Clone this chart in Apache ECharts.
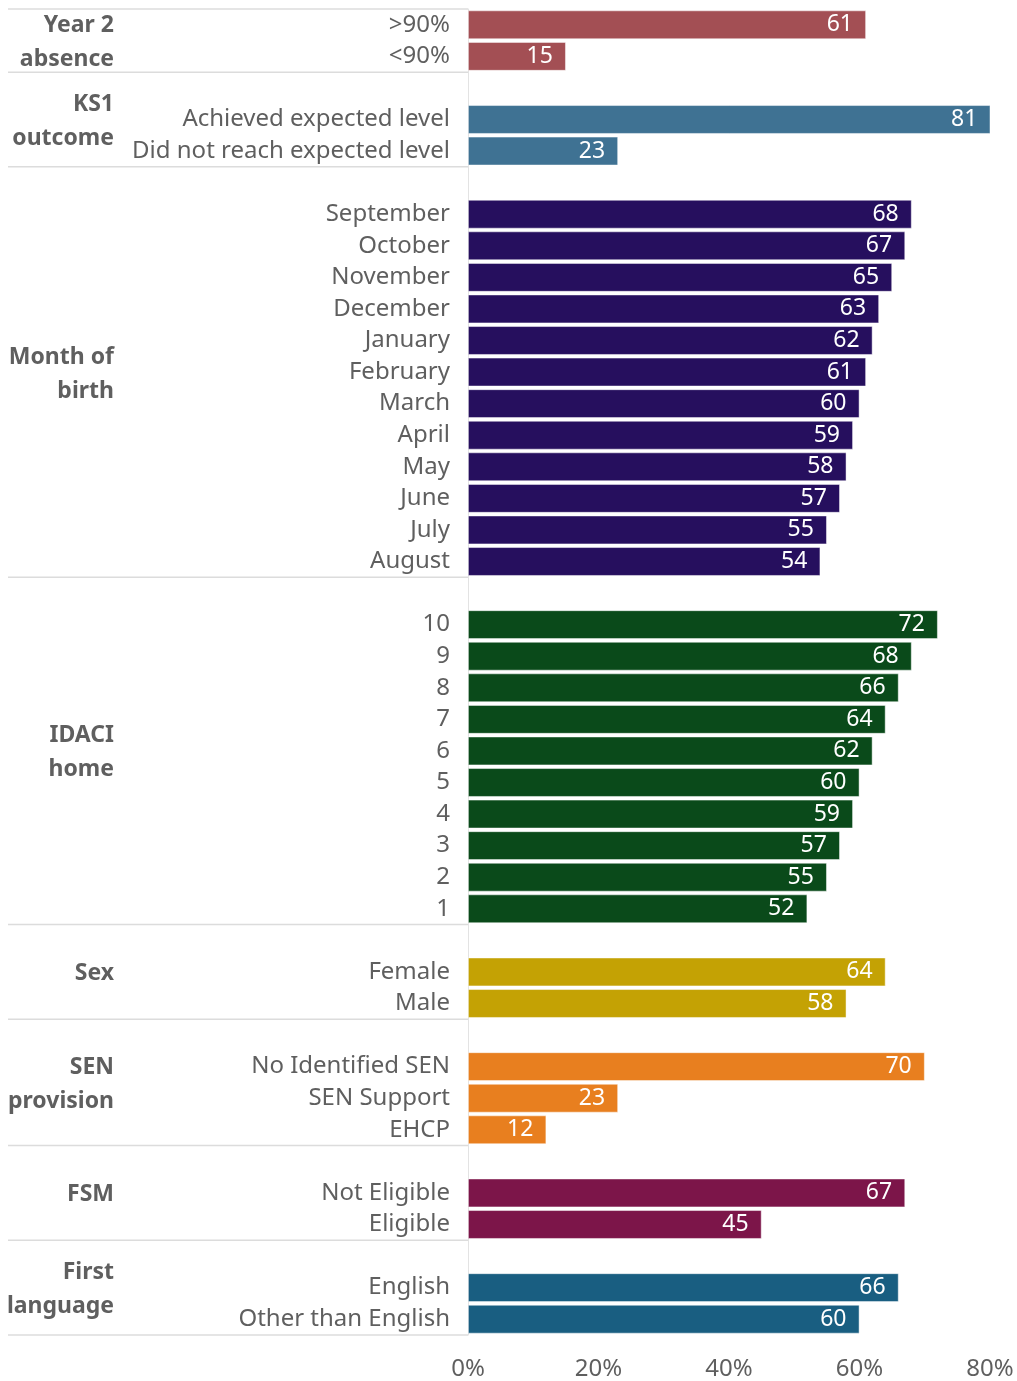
<!DOCTYPE html>
<html>
<head>
<meta charset="utf-8">
<script src="https://cdn.jsdelivr.net/npm/echarts@6/dist/echarts.min.js"></script>
<style>
html,body{margin:0;padding:0;background:#fff;}
#chart{width:1017px;height:1381px;}
</style>
</head>
<body>
<div id="chart"></div>
<script>
// ---- data ----
const groupNames = ['Year 2\nabsence', 'KS1\noutcome', 'Month of\nbirth', 'IDACI\nhome', 'Sex', 'SEN\nprovision', 'FSM', 'First\nlanguage'];
const groupColors = ['#A34F54', '#3F7293', '#260F5E', '#0A4A1A', '#C4A204', '#E87F1F', '#7C1549', '#195E81'];

const absenceCats = ['>90%', '<90%'];
const absenceVals = [61, 15];
const ks1Cats = ['Achieved expected level', 'Did not reach expected level'];
const ks1Vals = [81, 23];
const monthCats = ['September', 'October', 'November', 'December', 'January', 'February', 'March', 'April', 'May', 'June', 'July', 'August'];
const monthVals = [68, 67, 65, 63, 62, 61, 60, 59, 58, 57, 55, 54];
const idaciCats = ['10', '9', '8', '7', '6', '5', '4', '3', '2', '1'];
const idaciVals = [72, 68, 66, 64, 62, 60, 59, 57, 55, 52];
const sexCats = ['Female', 'Male'];
const sexVals = [64, 58];
const senCats = ['No Identified SEN', 'SEN Support', 'EHCP'];
const senVals = [70, 23, 12];
const fsmCats = ['Not Eligible', 'Eligible'];
const fsmVals = [67, 45];
const langCats = ['English', 'Other than English'];
const langVals = [66, 60];

const xTicks = [0, 20, 40, 60, 80];

const groupCats = [absenceCats, ks1Cats, monthCats, idaciCats, sexCats, senCats, fsmCats, langCats];
const groupVals = [absenceVals, ks1Vals, monthVals, idaciVals, sexVals, senVals, fsmVals, langVals];

// ---- build rows (one blank spacer row before every group except the first) ----
const FONT = 'Noto Sans';
const TXT = '#5f5f5f';
const categories = [];
const barData = [];
const groupSpans = []; // [spanStart, firstRow, lastRow]
groupCats.forEach((cats, g) => {
  let spanStart = categories.length;
  if (g > 0) {
    categories.push(' '.repeat(g));
    barData.push('-');
  }
  const first = categories.length;
  cats.forEach((c, i) => {
    categories.push(c);
    barData.push({ value: groupVals[g][i], itemStyle: { color: groupColors[g] } });
  });
  groupSpans.push([spanStart, first, categories.length - 1]);
});

const chart = echarts.init(document.getElementById('chart'), null, { renderer: 'canvas' });
const GRID_LEFT = 468;
chart.setOption({
  animation: false,
  backgroundColor: '#fff',
  textStyle: { fontFamily: FONT },
  grid: { left: GRID_LEFT, right: 27, top: 9, bottom: 45, containLabel: false },
  xAxis: {
    type: 'value',
    min: xTicks[0],
    max: xTicks[xTicks.length - 1],
    interval: 20,
    axisLine: { show: false },
    axisTick: { show: false },
    splitLine: { show: false },
    axisLabel: { formatter: '{value}%', color: TXT, fontSize: 24, fontFamily: FONT, margin: 22 }
  },
  yAxis: {
    type: 'category',
    inverse: true,
    data: categories,
    axisLine: { show: true, lineStyle: { color: '#e3e3e3', width: 1 } },
    axisTick: { show: false },
    splitLine: { show: false },
    axisLabel: {
      color: TXT, fontSize: 24, fontFamily: FONT, margin: 18,
      formatter: v => v.trim()
    }
  },
  series: [{
    type: 'bar',
    data: barData,
    barCategoryGap: '9%',
    itemStyle: { borderColor: 'rgba(255,255,255,0.6)', borderWidth: 0.8 },
    label: {
      show: true,
      position: 'insideRight',
      distance: 13,
      color: '#ffffff',
      fontSize: 23,
      fontFamily: FONT,
      formatter: '{c}'
    }
  }]
});

// ---- group labels and separators via the axis scale ----
const yOf = i => chart.convertToPixel({ yAxisIndex: 0 }, i);
const rowH = yOf(1) - yOf(0);
const elements = [];
const lineStyle = { stroke: '#dcdcdc', lineWidth: 1.5 };
const topY = yOf(0) - rowH / 2;
elements.push({ type: 'line', shape: { x1: 8, y1: topY, x2: GRID_LEFT, y2: topY }, style: lineStyle, silent: true });
groupSpans.forEach((s, g) => {
  const yEnd = yOf(s[2]) + rowH / 2;
  elements.push({ type: 'line', shape: { x1: 8, y1: yEnd, x2: GRID_LEFT, y2: yEnd }, style: lineStyle, silent: true });
  const yMid = (yOf(s[0]) + yOf(s[2])) / 2 + 2;
  elements.push({
    type: 'text',
    x: 114,
    y: yMid,
    style: {
      text: groupNames[g],
      fill: TXT,
      font: 'bold 23px "' + FONT + '"',
      align: 'right',
      verticalAlign: 'middle',
      lineHeight: 34
    },
    silent: true
  });
});
chart.setOption({ graphic: { elements: elements } });
</script>
</body>
</html>
